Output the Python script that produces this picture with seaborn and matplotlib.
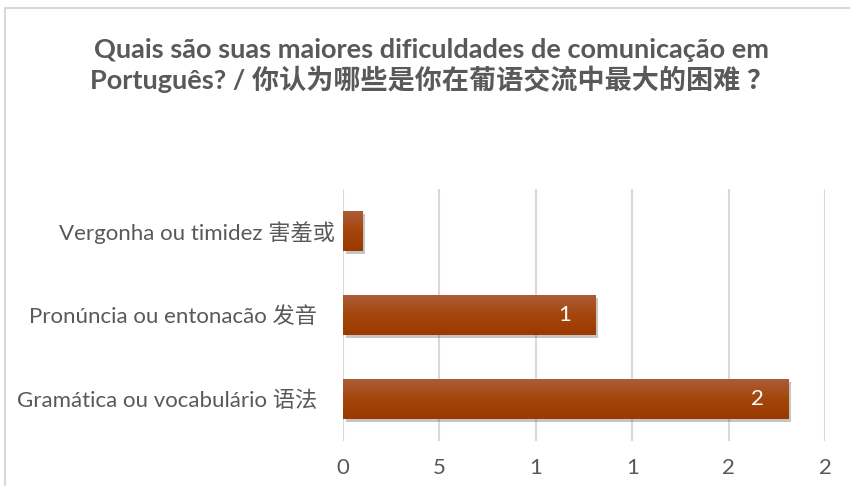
import matplotlib
matplotlib.use("Agg")
import matplotlib.pyplot as plt
import matplotlib.patheffects as pe
from matplotlib.colors import LinearSegmentedColormap
import numpy as np
import seaborn as sns
import pandas as pd

categories = ["Vergonha ou timidez 害羞或", "Pronúncia ou entonacão 发音   ", "Gramática ou vocabulário 语法   "]
values = [0.10, 1.31, 2.31]
data_labels = ["", "1", "2"]
xtick_values = [0, 0.5, 1, 1.5, 2, 2.5]
xtick_labels = ["0", "5", "1", "1", "2", "2"]
title = "Quais são suas maiores dificuldades de comunicação em\nPortuguês? / 你认为哪些是你在葡语交流中最大的困难 ？"

sns.set_theme(style="white")
FAM = ["Lato", "Noto Sans CJK SC", "DejaVu Sans"]
plt.rcParams["font.family"] = FAM
TXT = "#595959"
GRID = "#D9D9D9"

df = pd.DataFrame({"cat": categories, "val": values})

fig = plt.figure(figsize=(8.5, 4.86), dpi=100)
ax = fig.add_axes([343/850, 45/486, (825-343)/850, 252/486])

sns.barplot(data=df, x="val", y="cat", color="#A3440C", saturation=1, width=0.476, ax=ax, zorder=3)

ax.set_xlim(0, 2.5)
ax.set_ylim(2.5, -0.5)

cmap = LinearSegmentedColormap.from_list("bar", ["#AC5C38", "#A4460B", "#9B3900"])
grad = np.linspace(0, 1, 64).reshape(-1, 1)
for p in ax.patches:
    p.set_linewidth(0)
    p.set_path_effects([pe.SimplePatchShadow(offset=(2, -2), shadow_rgbFace="#404040", alpha=0.3), pe.Normal()])
    x0, y0 = p.get_x(), p.get_y()
    w, h = p.get_width(), p.get_height()
    im = ax.imshow(grad, cmap=cmap, aspect="auto", extent=(x0, x0 + w, y0 + h, y0),
                   origin="upper", zorder=3.5, interpolation="bilinear")
    im.set_clip_path(p)

ax.bar_label(ax.containers[0], labels=data_labels, padding=-27, color="white", fontsize=16, zorder=5)

ax.set_xlim(0, 2.5)
ax.set_ylim(2.5, -0.5)
ax.set_xticks(xtick_values)
ax.set_xticklabels(xtick_labels)
ax.grid(axis="x", color=GRID, linewidth=1.5, zorder=0)
ax.grid(axis="y", visible=False)
for s in ax.spines.values():
    s.set_visible(False)
ax.set_xlabel("")
ax.set_ylabel("")
ax.tick_params(axis="x", colors=TXT, labelsize=16, length=0, pad=12)
ax.tick_params(axis="y", colors=TXT, labelsize=16, length=0, pad=6)

fig.text(0.508, 0.865, title, ha="center", va="center", fontsize=19.5, fontweight="bold",
         color=TXT, linespacing=1.15, family=FAM)

# chart border
fig.add_artist(plt.Line2D([5/850, 5/850], [0, 1 - 8/486], color=GRID, linewidth=1.5))
fig.add_artist(plt.Line2D([5/850, 1], [1 - 8/486, 1 - 8/486], color=GRID, linewidth=1.5))

fig.savefig("out.png", dpi=100)
